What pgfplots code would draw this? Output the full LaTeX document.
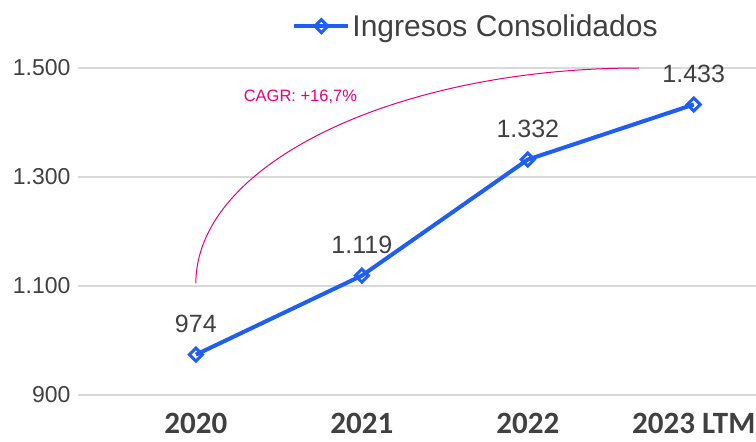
\documentclass[border=0pt]{standalone}
\usepackage{fontspec}
\setmainfont{Liberation Sans}
\newfontfamily\labfont{Carlito}
\usepackage{pgfplots}
\pgfplotsset{compat=1.18}

\definecolor{serie}{HTML}{1F5EF5}
\definecolor{txt}{HTML}{404040}
\definecolor{cagr}{HTML}{E6007E}
\definecolor{grd}{HTML}{D9D9D9}

\begin{document}
\begin{tikzpicture}
\begin{axis}[
    name=ax,
    scale only axis,
    width=678bp, height=327bp,
    xmin=-0.71, xmax=3.375,
    ymin=900, ymax=1500,
    xtick={0,1,2,3},
    xticklabels={2020,2021,2022,2023 LTM},
    ytick={900,1100,1300,1500},
    ymajorgrids,
    grid style={grd, line width=1.5bp},
    axis line style={draw=none},
    major tick length=0pt,
    /pgf/number format/1000 sep={.},
    /pgf/number format/assume math mode=true,
    yticklabel style={font=\fontsize{23bp}{27bp}\selectfont, text=txt, xshift=-4bp},
    xticklabel style={font=\labfont\bfseries\fontsize{31bp}{35bp}\selectfont, text=txt, yshift=-15bp},
    nodes near coords,
    every node near coord/.append style={font=\fontsize{25bp}{29bp}\selectfont, text=txt, yshift=17bp},
    legend style={draw=none, fill=none, at={(rel axis cs:0.316,1.128)}, anchor=west,
        font=\fontsize{30bp}{34bp}\selectfont, text=txt, inner sep=0pt},
    legend image code/.code={
        \draw[mark repeat=2, mark phase=2] plot coordinates {(0bp,0bp) (27bp,0bp) (54bp,0bp)};
    },
    clip=false,
]
\addplot[serie, line width=4bp, mark=square, mark size=4.6bp,
    mark options={solid, fill=white, line width=3bp, rotate=45}]
    coordinates {(0,974) (1,1119) (2,1332) (3,1433)};
\addlegendentry{Ingresos Consolidados}

\draw[cagr, line width=1bp] (axis cs:0,1105) .. controls (axis cs:0,1323) and (axis cs:1.2,1500) .. (axis cs:2.67,1500);
\node[cagr, font=\fontsize{16.5bp}{19bp}\selectfont] at (axis cs:0.63,1447) {CAGR: +16,7\%};
\end{axis}
\pgfresetboundingbox
\path ([shift={(-78bp,-47bp)}]ax.south west) rectangle ([shift={(0bp,68bp)}]ax.north east);
\end{tikzpicture}
\end{document}
